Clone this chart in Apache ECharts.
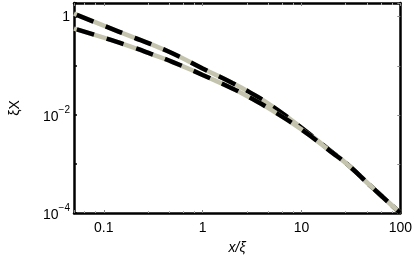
<!DOCTYPE html>
<html><head><meta charset="utf-8">
<script src="https://cdn.jsdelivr.net/npm/echarts@6/dist/echarts.min.js"></script>
<style>html,body{margin:0;padding:0;background:#fff}#c{width:415px;height:262px}</style>
</head><body><div id="c"></div>
<script>
const xVals  = [0.05, 0.1, 0.2, 0.3, 0.5, 1, 2, 3, 5, 10, 20, 30, 50, 100];
const upperY = [1.15, 0.656, 0.379, 0.275, 0.178, 0.0881, 0.0446, 0.0287, 0.0152, 0.00546, 0.00179, 0.000936, 0.000356, 0.0001];
const lowerY = [0.573, 0.373, 0.235, 0.175, 0.119, 0.065, 0.0345, 0.0225, 0.0125, 0.00504, 0.00176, 0.000930, 0.000356, 0.0001];
const xTickLabels = {'-1': '0.1', '0': '1', '1': '10', '2': '100'};
const yTickLabels = {'0': '1', '-2': '{b|10}{s|−2}', '-4': '{b|10}{s|−4}'};

const FONT = '"Liberation Sans", Arial, sans-serif';
const GRAY = '#c4c4ae';
function pts(ys){ return xVals.map((x,i)=>[x, ys[i]]); }
function exp10(v){ const l = Math.log10(v); const r = Math.round(l); return Math.abs(l-r) < 1e-6 ? r : null; }

const chart = echarts.init(document.getElementById('c'), null, {renderer:'canvas'});
function mkSeries(ys, z){
  return [
    {type:'line', data:pts(ys), smooth:0.5, symbol:'none', z:z, xAxisIndex:0, yAxisIndex:0,
     lineStyle:{color:GRAY, width:4.5}, silent:true, animation:false},
    {type:'line', data:pts(ys), smooth:0.5, symbol:'none', z:z+1, xAxisIndex:0, yAxisIndex:0,
     lineStyle:{color:'#000', width:4.5, type:[18,13], dashOffset:-3}, silent:true, animation:false}
  ];
}
chart.setOption({
  animation:false,
  grid:{left:60, right:14, top:3, bottom:49, containLabel:false},
  xAxis:[
    {type:'log', min:0.05, max:100, logBase:10, position:'bottom',
     name:'x/ξ', nameLocation:'middle', nameGap:28,
     nameTextStyle:{fontFamily:FONT, fontSize:14, fontStyle:'italic', color:'#000'},
     axisLine:{show:true, onZero:false, lineStyle:{color:'#000', width:2.5}},
     axisTick:{show:true, inside:true, length:3, lineStyle:{color:'#888', width:1}},
     minorTick:{show:true, splitNumber:5, length:2, lineStyle:{color:'#aaa'}},
     splitLine:{show:false},
     axisLabel:{fontFamily:FONT, fontSize:14, color:'#000', margin:8,
       formatter:(v)=>{const e=exp10(v); return e===null?'':(xTickLabels[String(e)]||'');}}},
    {type:'log', min:0.05, max:100, logBase:10, position:'top',
     axisLine:{show:true, onZero:false, lineStyle:{color:'#000', width:2.5}},
     axisTick:{show:true, inside:true, length:3, lineStyle:{color:'#888', width:1}},
     minorTick:{show:true, splitNumber:5, length:2, lineStyle:{color:'#aaa'}},
     splitLine:{show:false}, axisLabel:{show:false}}
  ],
  yAxis:[
    {type:'log', min:0.0001, max:1.9, logBase:10, position:'left',
     name:'ξX', nameLocation:'middle', nameGap:52, nameRotate:90,
     nameTextStyle:{fontFamily:FONT, fontSize:14, color:'#000'},
     axisLine:{show:true, onZero:false, lineStyle:{color:'#000', width:2.5}},
     axisTick:{show:true, inside:true, length:3, lineStyle:{color:'#000', width:1.5}},
     splitLine:{show:false},
     axisLabel:{fontFamily:FONT, fontSize:14, color:'#000', margin:4,
       formatter:(v)=>{const e=exp10(v); return e===null?'':(yTickLabels[String(e)]||'');},
       rich:{b:{fontFamily:FONT, fontSize:14, color:'#000', lineHeight:19, verticalAlign:'bottom'},
             s:{fontFamily:FONT, fontSize:10, color:'#000', lineHeight:19, verticalAlign:'top'}}}},
    {type:'log', min:0.0001, max:1.9, logBase:10, position:'right',
     axisLine:{show:true, onZero:false, lineStyle:{color:'#000', width:2.5}},
     axisTick:{show:true, inside:true, length:3, lineStyle:{color:'#888', width:1}},
     splitLine:{show:false}, axisLabel:{show:false}}
  ],
  series:[...mkSeries(upperY, 10), ...mkSeries(lowerY, 12)]
});
</script></body></html>
